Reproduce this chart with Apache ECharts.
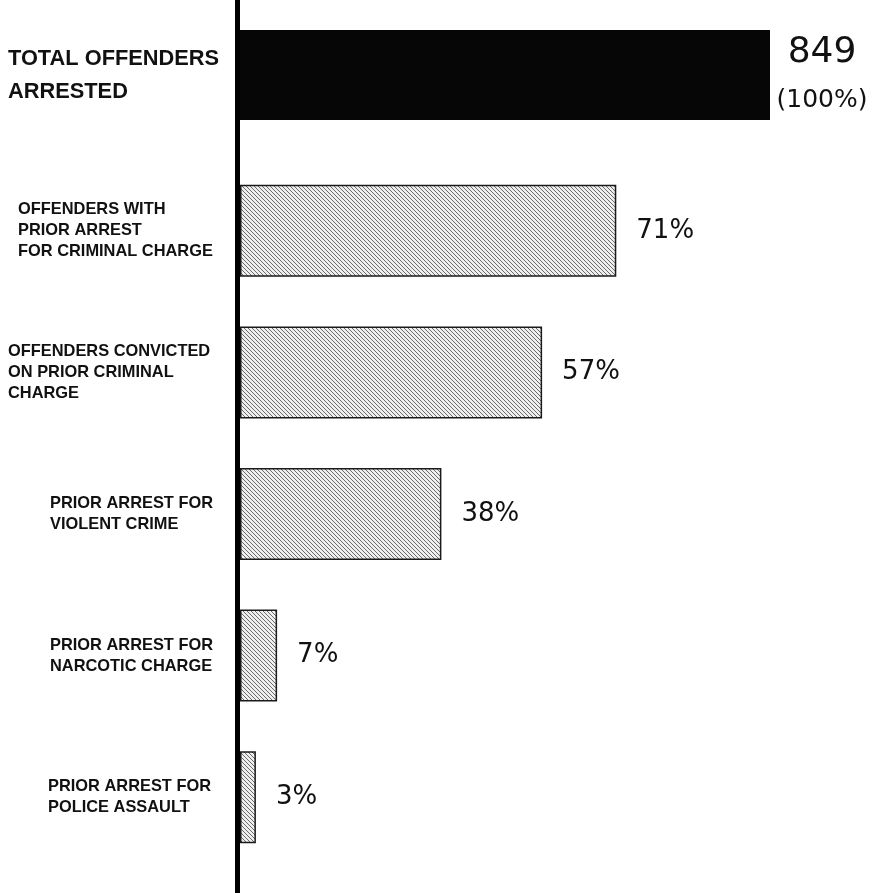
<!DOCTYPE html>
<html><head><meta charset="utf-8">
<script src="https://cdn.jsdelivr.net/npm/echarts@6/dist/echarts.min.js"></script>
<style>html,body{margin:0;padding:0;background:#fff}#c{width:884px;height:893px}</style>
</head><body><div id="c"></div>
<script>
// ---- data ----
const totalCategory = ['TOTAL OFFENDERS\nARRESTED'];
const totalCount = [849];
const totalPercent = [100];
const categories = [
  'OFFENDERS WITH\nPRIOR ARREST\nFOR CRIMINAL CHARGE',
  'OFFENDERS CONVICTED\nON PRIOR CRIMINAL\nCHARGE',
  'PRIOR ARREST FOR\nVIOLENT CRIME',
  'PRIOR ARREST FOR\nNARCOTIC CHARGE',
  'PRIOR ARREST FOR\nPOLICE ASSAULT'
];
const percents = [71, 57, 38, 7, 3];

// ---- styling ----
const labelIndent = [10, 0, 42, 42, 40];
function hatch() {
  const c = document.createElement('canvas');
  c.width = 4; c.height = 4;
  const g = c.getContext('2d');
  g.fillStyle = '#efefef'; g.fillRect(0, 0, 4, 4);
  g.strokeStyle = '#6a6a6a'; g.lineWidth = 1;
  g.beginPath();
  g.moveTo(-1, -1); g.lineTo(5, 5);
  g.moveTo(-1, 3); g.lineTo(1, 5);
  g.moveTo(3, -1); g.lineTo(5, 1);
  g.stroke();
  return c;
}
const pattern = { image: hatch(), repeat: 'repeat' };

const rich = {};
labelIndent.forEach((p, i) => {
  rich['s' + i] = { fontFamily: 'Liberation Sans', fontWeight: 'bold', fontSize: 16.4, color: '#111', lineHeight: 21, padding: [0, 0, 0, p] };
});

const chart = echarts.init(document.getElementById('c'), null, { renderer: 'canvas' });
chart.setOption({
  animation: false,
  backgroundColor: '#fff',
  grid: [
    { left: 240, width: 530, top: 0, height: 150 },
    { left: 240, width: 530, top: 160, height: 708 }
  ],
  xAxis: [
    { gridIndex: 0, type: 'value', min: 0, max: 100, show: false },
    { gridIndex: 1, type: 'value', min: 0, max: 100, show: false }
  ],
  yAxis: [
    { gridIndex: 0, type: 'category', inverse: true, data: totalCategory,
      axisLine: { show: false }, axisTick: { show: false },
      axisLabel: { align: 'left', margin: 232, fontFamily: 'Liberation Sans', fontWeight: 'bold', fontSize: 21.8, lineHeight: 33, color: '#111' } },
    { gridIndex: 1, type: 'category', inverse: true, data: categories,
      axisLine: { show: false }, axisTick: { show: false },
      axisLabel: { align: 'left', margin: 232, rich: rich,
        formatter: (v, i) => v.split('\n').map(l => '{s' + i + '|' + l + '}').join('\n') } }
  ],
  series: [
    { type: 'bar', xAxisIndex: 0, yAxisIndex: 0, data: totalPercent, barWidth: 90,
      itemStyle: { color: '#060606' },
      label: { show: true, position: 'right', distance: 1, offset: [0, 2],
        formatter: (p) => '{big|' + totalCount[p.dataIndex] + '}\n{small|(' + p.value + '%)}',
        rich: {
          big: { fontFamily: 'DejaVu Sans', fontSize: 36, color: '#111', lineHeight: 46, width: 102, align: 'center' },
          small: { fontFamily: 'DejaVu Sans', fontSize: 25, color: '#111', lineHeight: 48, width: 102, align: 'center' }
        } } },
    { type: 'bar', xAxisIndex: 1, yAxisIndex: 1, data: percents, barWidth: 92,
      itemStyle: { color: pattern, borderColor: '#1a1a1a', borderWidth: 1.5 },
      label: { show: true, position: 'right', distance: 20, formatter: '{c}%',
        fontFamily: 'DejaVu Sans', fontSize: 26, color: '#111' } }
  ],
  graphic: [
    { type: 'line', z: 100, shape: { x1: 237.5, y1: 0, x2: 237.5, y2: 893 }, style: { stroke: '#000', lineWidth: 5 } }
  ]
});
</script></body></html>
